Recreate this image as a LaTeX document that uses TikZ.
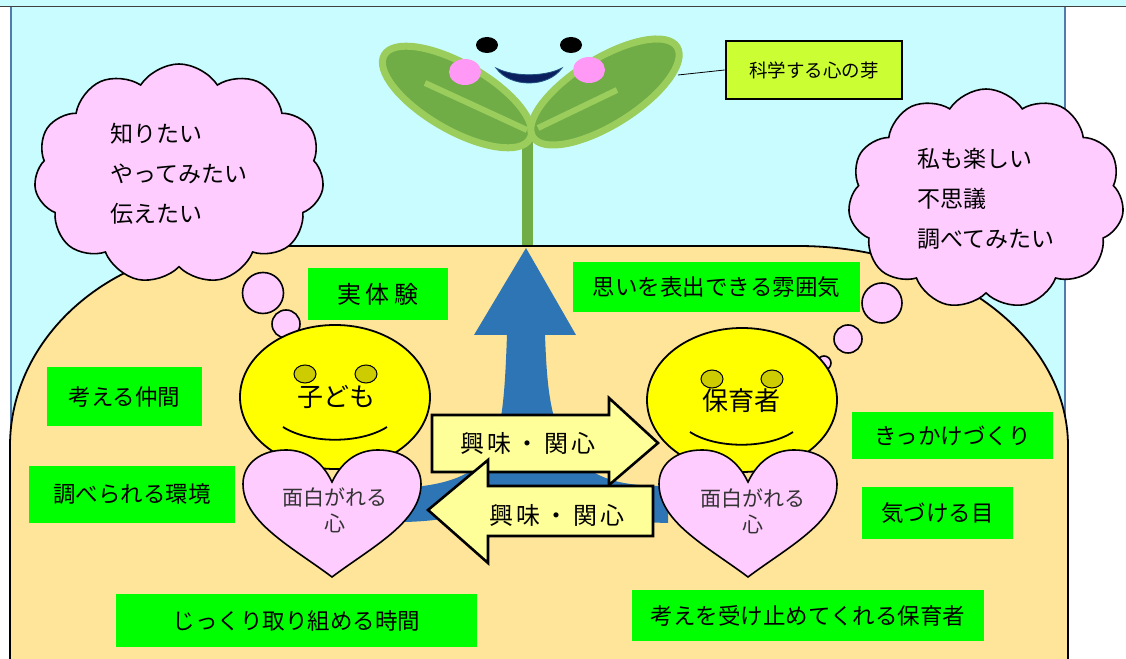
\documentclass[tikz,border=0pt]{standalone}
\usepackage{fontspec}
\setmainfont{Noto Sans CJK JP}
\usepackage{tikz}
\usetikzlibrary{shapes.symbols}
\definecolor{sky}{HTML}{C8FCFF}
\definecolor{soil}{HTML}{FFE599}
\definecolor{frame}{HTML}{4F7BAF}
\definecolor{leaf}{HTML}{70AD47}
\definecolor{leafedge}{HTML}{9ACD5C}
\definecolor{cheek}{HTML}{FF99F5}
\definecolor{navy}{HTML}{0B1F5E}
\definecolor{lime}{HTML}{CCFF33}
\definecolor{puff}{HTML}{FFCCFF}
\definecolor{sun}{HTML}{FFFF00}
\definecolor{eyeolive}{HTML}{CCCC00}
\definecolor{flow}{HTML}{2E75B6}
\definecolor{note}{HTML}{FFFF99}
\definecolor{grass}{HTML}{00FF00}
\definecolor{ink}{HTML}{333333}

\begin{document}
\begin{tikzpicture}[x=1pt,y=1pt,
  tag/.style={fill=grass, inner sep=0pt, font=\fontsize{22.5}{26}\selectfont},
  bubble/.style={draw=black, fill=puff, line width=1.6pt},
  smiley/.style={draw=black, fill=sun, line width=1.8pt},
  eye/.style={draw=black, fill=eyeolive, line width=1pt},
  swap/.style={draw=black, fill=note, line width=2.6pt}]
\useasboundingbox (0,0) rectangle (1126,658);
\fill[white] (0,0) rectangle (1126,658);
\fill[sky] (0,651) rectangle (1126,658);
\fill[sky] (10,0) rectangle (1065,651);
\draw[frame, line width=2pt] (10.5,0) -- (10.5,651) (1064.5,0) -- (1064.5,651);
\draw[black!75, line width=1.6pt] (0,651.5) -- (1126,651.5);

% sprout with a face
\draw[leaf, line width=11pt] (527,518) -- (527,412);
\filldraw[draw=leafedge, fill=leaf, line width=7pt, rotate around={-30:(457,561)}] (457,561) ellipse [x radius=84, y radius=33];
\filldraw[draw=leafedge, fill=leaf, line width=7pt, rotate around={32:(605,566)}] (605,566) ellipse [x radius=85, y radius=33];
\draw[leafedge, line width=6pt] (425,575) -- (527,528) (538,530) -- (617,568);
\fill (487,613) ellipse [x radius=11, y radius=8];
\fill (571,613) ellipse [x radius=11, y radius=8];
\fill[cheek] (465,586) ellipse [x radius=16, y radius=13];
\fill[cheek] (589,588) ellipse [x radius=16, y radius=13];
\filldraw[fill=navy, draw=flow!70!black, line width=0.8pt] (496,590) .. controls (510,570) and (548,570) .. (562,590) .. controls (545,581) and (513,581) .. (496,590) -- cycle;

\node[draw=black, fill=lime, line width=2.6pt, minimum width=176pt, minimum height=58pt, inner sep=0pt, font=\fontsize{18.5}{22}\selectfont] (sprout) at (814,588) {科学する心の芽};
\coordinate (leaftip) at (678,583);
\draw[line width=0.8pt] (leaftip) -- (sprout.west);

% ground
\filldraw[fill=soil, draw=black, line width=1.8pt] (10,-2) -- (10,212) arc[start angle=180, end angle=90, x radius=230, y radius=200] -- (798,412) arc[start angle=90, end angle=0, x radius=270, y radius=200] -- (1068,-2) -- cycle;

% thoughts
\node[cloud, bubble, cloud puffs=11, cloud puff arc=115, aspect=1.35, minimum width=290pt, minimum height=220pt, inner sep=0pt, align=left, font=\fontsize{23}{40}\selectfont] (childcloud) at (179,484) {知りたい\\やってみたい\\伝えたい};
\node[cloud, bubble, cloud puffs=11, cloud puff arc=115, aspect=1.3, minimum width=276pt, minimum height=220pt, inner sep=0pt, align=left, font=\fontsize{23}{40}\selectfont] (teachercloud) at (986,459) {私も楽しい\\不思議\\調べてみたい};
\foreach \bx/\by/\br in {263/365/20.5, 286/334/14, 301/315/7, 882/355/20, 848/319/14, 824/295/7}
  \draw[bubble] (\bx,\by) circle [radius=\br];

% growth arrow
\fill[flow] (474,323) -- (526,410) -- (576,323) -- (545,323) .. controls (547,270) and (550,228) .. (575,200) .. controls (600,175) and (630,172) .. (668,172) -- (668,135) .. controls (620,136) and (565,145) .. (526,160) .. controls (487,145) and (440,136) .. (400,136) -- (400,170) .. controls (440,172) and (472,180) .. (490,205) .. controls (503,228) and (505,270) .. (507,323) -- cycle;

% child
\draw[smiley] (335,261) ellipse [x radius=95, y radius=72];
\draw[eye] (305,284) ellipse [x radius=11, y radius=9];
\draw[eye] (366,284) ellipse [x radius=11, y radius=9];
\node[font=\fontsize{26}{30}\selectfont] (child) at (336,261) {子ども};
\draw[line width=1.8pt] (283,231) .. controls (310,214) and (360,214) .. (387,231);

% teacher
\draw[smiley] (742,258) ellipse [x radius=95, y radius=72];
\draw[eye] (712,279) ellipse [x radius=11, y radius=9];
\draw[eye] (772,279) ellipse [x radius=11, y radius=9];
\node[font=\fontsize{26}{30}\selectfont] (teacher) at (741,257) {保育者};
\draw[line width=1.8pt] (690,226) .. controls (716,209) and (767,209) .. (793,226);

% hearts
\foreach \hx in {332,748}
  \filldraw[bubble, shift={(\hx,176)}] (0,0) .. controls (12,25) and (30,32) .. (46,32) .. controls (72,32) and (89,18) .. (89,-2) .. controls (89,-40) and (40,-65) .. (0,-95) .. controls (-40,-65) and (-89,-40) .. (-89,-2) .. controls (-89,18) and (-72,32) .. (-46,32) .. controls (-30,32) and (-12,25) .. (0,0) -- cycle;
\node[text=ink, align=center, font=\fontsize{21}{26}\selectfont] (childheart) at (335,148) {面白がれる\\心};
\node[text=ink, align=center, font=\fontsize{21}{26}\selectfont] (teacherheart) at (753,147) {面白がれる\\心};

% interest going both ways
\filldraw[swap] (432,243) -- (609,243) -- (609,260) -- (658,215) -- (609,173) -- (609,186) -- (432,186) -- cycle;
\node[font=\fontsize{24}{28}\selectfont] (toteacher) at (528,215) {興\kern4pt 味\kern4pt ・\kern4pt 関\kern4pt 心};
\filldraw[swap] (653,172) -- (488,172) -- (488,198) -- (428,148) -- (488,95) -- (488,122) -- (653,122) -- cycle;
\node[font=\fontsize{24}{28}\selectfont] (tochild) at (557,143) {興\kern4pt 味\kern4pt ・\kern4pt 関\kern4pt 心};

% what helps
\node[tag, minimum width=140pt, minimum height=52pt, font=\fontsize{24}{28}\selectfont] (experience) at (378,364) {実\kern5pt 体\kern5pt 験};
\node[tag, minimum width=287pt, minimum height=50pt] (mood) at (716.5,371) {思いを表出できる雰囲気};
\node[tag, minimum width=155pt, minimum height=59pt] (peers) at (124.5,261.5) {考える仲間};
\node[tag, minimum width=206pt, minimum height=57pt] (setting) at (132,163.5) {調べられる環境};
\node[tag, minimum width=361pt, minimum height=53pt] (time) at (296.5,37.5) {じっくり取り組める時間};
\node[tag, minimum width=201pt, minimum height=47pt] (trigger) at (952.5,222.5) {きっかけづくり};
\node[tag, minimum width=151pt, minimum height=52pt] (noticing) at (937.5,145) {気づける目};
\node[tag, minimum width=352pt, minimum height=51pt] (listener) at (808,42.5) {考えを受け止めてくれる保育者};
\end{tikzpicture}
\end{document}
